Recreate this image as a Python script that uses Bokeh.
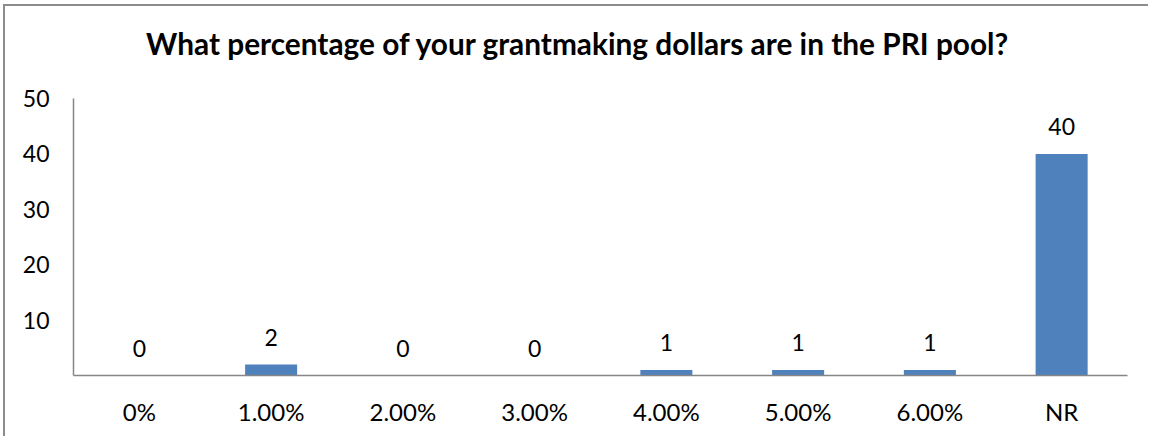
from bokeh.plotting import figure
from bokeh.models import FactorRange, Range1d, FixedTicker, ColumnDataSource
from bokeh.core.properties import value
from bokeh.embed import file_html
from bokeh.resources import INLINE

categories = ["0%", "1.00%", "2.00%", "3.00%", "4.00%", "5.00%", "6.00%", "NR"]
counts = [0, 2, 0, 0, 1, 1, 1, 40]
y_ticks = [10, 20, 30, 40, 50]
title_text = "What percentage of your grantmaking dollars are in the PRI pool?"

FONT = "Lato"
BAR = "#4F81BD"
AXIS = "#868686"

# layout (pixels): frame spans the full height above the x axis; the value axis covers 0..50
FRAME_H = 369       # px from canvas top to the x axis
AXIS_H = 277        # px used by 0..50
Y_MAX = 50
y_end = Y_MAX * FRAME_H / AXIS_H
title_y = Y_MAX * (FRAME_H - 37) / AXIS_H   # title centred 37 px below canvas top
title_x = 3.83                               # synthetic categorical coordinate

src = ColumnDataSource(dict(cat=categories, n=counts, lab=[str(v) for v in counts]))

p = figure(x_range=FactorRange(factors=categories), y_range=Range1d(0, y_end),
           width=1145, height=432, output_backend="svg", toolbar_location=None,
           min_border_left=68, min_border_right=23, min_border_top=0, min_border_bottom=63,
           outline_line_color=None, background_fill_color="white", border_fill_color="white",
           styles={"border-left": "2px solid #8c8c8c", "border-top": "2px solid #8c8c8c",
                   "margin-left": "3px", "margin-top": "4px"})

p.vbar(x="cat", top="n", width=0.395, source=src, fill_color=BAR, line_color=None)
p.text(x="cat", y="n", text="lab", source=src, text_align="center", text_baseline="alphabetic",
       y_offset=-27, text_font=value(FONT), text_font_size="23px", text_color="black")

p.text(x=[title_x], y=[title_y], text=[title_text], text_align="center", text_baseline="middle",
       text_font=value(FONT), text_font_size="29.8px", text_font_style="bold", text_color="black")

p.xgrid.visible = False
p.ygrid.visible = False

for ax in (p.xaxis[0], p.yaxis[0]):
    ax.axis_line_color = AXIS
    ax.axis_line_width = 1.5
    ax.major_tick_line_color = None
    ax.minor_tick_line_color = None
    ax.major_label_text_font = FONT
    ax.major_label_text_color = "black"

p.yaxis[0].bounds = (0, Y_MAX)
p.yaxis[0].major_label_text_font_size = "23px"
p.xaxis[0].major_label_text_font_size = "24px"
p.yaxis[0].ticker = FixedTicker(ticks=y_ticks)
p.yaxis[0].major_label_standoff = 18
p.xaxis[0].major_label_standoff = 15

open("out.html", "w").write(file_html(p, INLINE))
